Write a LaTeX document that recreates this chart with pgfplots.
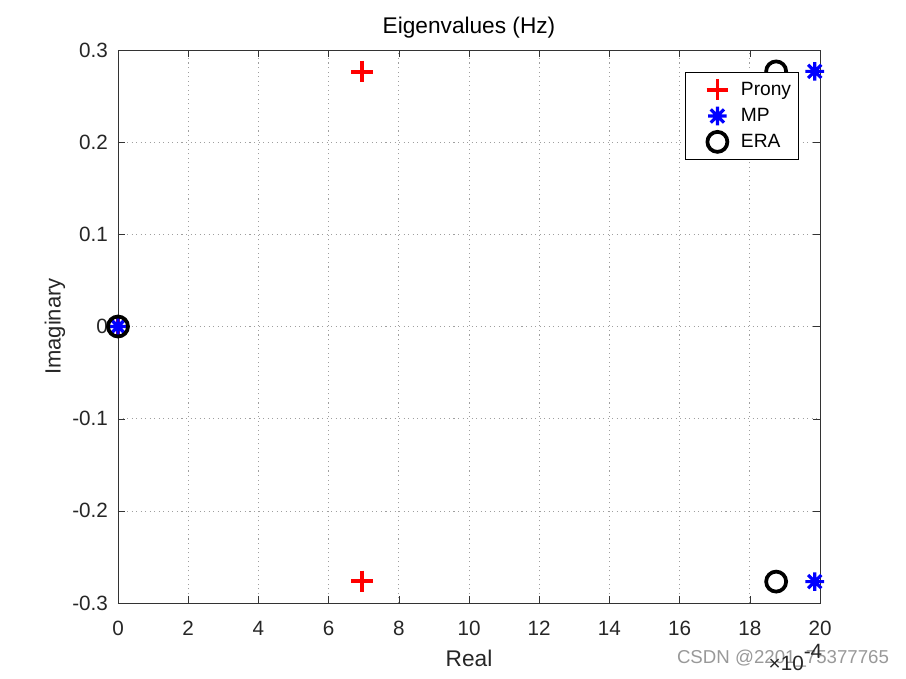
\documentclass[border=0pt]{standalone}
\usepackage{pgfplots}
\pgfplotsset{compat=1.18}
\usepackage{fontspec}
\setmainfont{Liberation Sans}

% MATLAB-style asterisk: 8 arms
\pgfdeclareplotmark{ast8}{%
  \pgfpathmoveto{\pgfqpoint{-\pgfplotmarksize}{0pt}}%
  \pgfpathlineto{\pgfqpoint{\pgfplotmarksize}{0pt}}%
  \pgfpathmoveto{\pgfqpoint{0pt}{-\pgfplotmarksize}}%
  \pgfpathlineto{\pgfqpoint{0pt}{\pgfplotmarksize}}%
  \pgfpathmoveto{\pgfqpoint{-0.7071\pgfplotmarksize}{-0.7071\pgfplotmarksize}}%
  \pgfpathlineto{\pgfqpoint{0.7071\pgfplotmarksize}{0.7071\pgfplotmarksize}}%
  \pgfpathmoveto{\pgfqpoint{-0.7071\pgfplotmarksize}{0.7071\pgfplotmarksize}}%
  \pgfpathlineto{\pgfqpoint{0.7071\pgfplotmarksize}{-0.7071\pgfplotmarksize}}%
  \pgfusepathqstroke}

\begin{document}
\begin{tikzpicture}
% page = 906x678 px at 0.75pt/px, axis box 702x553 px
\path[use as bounding box] (-88.5pt,-56.25pt) rectangle (591pt,452.25pt);
\begin{axis}[
    at={(0,0)}, anchor=south west,
    scale only axis, width=526.5pt, height=414.75pt,
    xmin=0, xmax=20, ymin=-0.3, ymax=0.3,
    xtick={0,2,4,6,8,10,12,14,16,18,20},
    ytick={-0.3,-0.2,-0.1,0,0.1,0.2,0.3},
    yticklabels={-0.3,-0.2,-0.1,0,0.1,0.2,0.3},
    xticklabels={0,2,4,6,8,10,12,14,16,18,20},
    grid=major, grid style={dash pattern=on 0.8pt off 2.6pt, gray!75, line width=0.5pt},
    tick align=inside, major tick length=5pt,
    tick style={black!80},
    axis line style={black!80},
    ticklabel style={font=\fontsize{15.5}{18}\selectfont, text=black!85},
    xticklabel style={yshift=-10pt},
    yticklabel style={xshift=-4pt},
    title={Eigenvalues (Hz)},
    every axis title shift/.style={yshift=0pt},
    title style={font=\fontsize{17}{20}\selectfont, at={(axis description cs:0.5,1.026)}, anchor=center},
    xlabel={Real},
    xlabel style={font=\fontsize{17}{20}\selectfont, text=black!85, at={(axis description cs:0.5,-0.0995)}, anchor=center},
    ylabel={Imaginary},
    ylabel style={font=\fontsize{16.5}{20}\selectfont, text=black!85, at={(axis description cs:-0.0897,0.5)}, anchor=center},
    clip=false,
    legend style={at={(0.9687,0.960)}, anchor=north east, draw=black,
      font=\fontsize{14.4}{16}\selectfont, row sep=4pt, inner xsep=3pt, inner ysep=5pt},
    legend cell align=left,
    legend image code/.code={%
      \path[draw=none, fill=none] (0cm,0cm) -- (1.3cm,0cm);
      \draw[#1] plot coordinates {(0.75cm,0cm)};},
]
\addplot[only marks, red, mark=+, mark size=8pt, line width=2.8pt]
  coordinates {(0,0) (6.95,0.2765) (6.95,-0.2765)};
\addplot[only marks, blue, mark=ast8, mark size=7pt, line width=2.4pt]
  coordinates {(0,0) (19.85,0.2768) (19.85,-0.2768)};
\addplot[only marks, black, mark=o, mark size=7.5pt, line width=2.8pt]
  coordinates {(0,0) (18.75,0.2768) (18.75,-0.2768)};
\legend{Prony,MP,ERA}
\node[font=\fontsize{14}{16}\selectfont, text=gray!80] at ([shift={(-27.75pt,-42pt)}]axis description cs:1,0) {CSDN @2201\_75377765};
\node[font=\fontsize{15.5}{18}\selectfont, text=black!85, anchor=base west] at ([shift={(-42pt,-50.5pt)}]axis description cs:1,0) {×10\raisebox{9pt}{-4}};
\end{axis}
\end{tikzpicture}
\end{document}
